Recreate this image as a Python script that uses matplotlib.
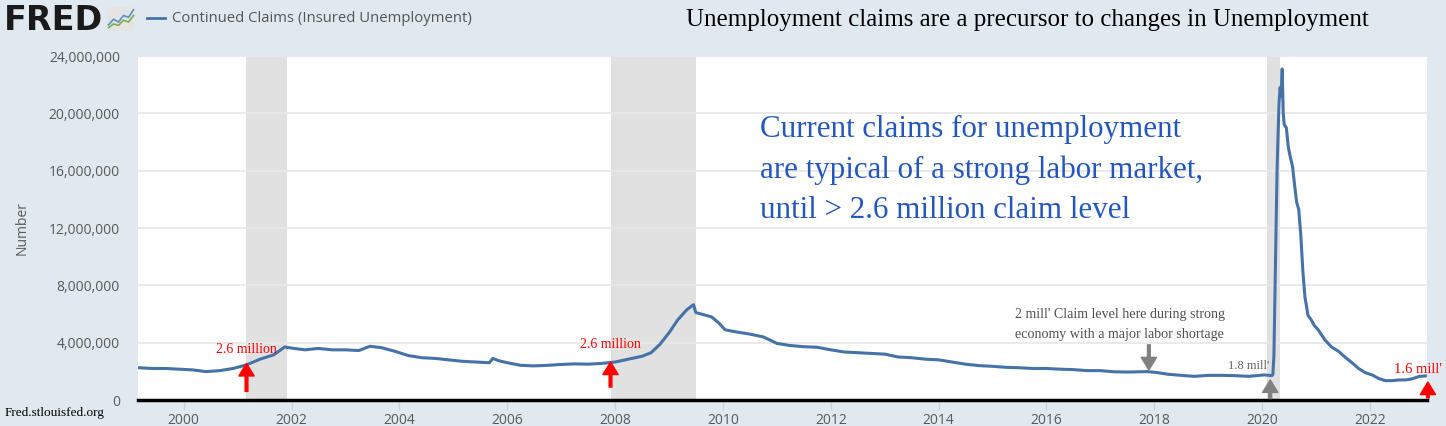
import matplotlib
matplotlib.use("Agg")
import matplotlib.pyplot as plt
import matplotlib.dates as mdates
from matplotlib.ticker import FuncFormatter, MultipleLocator
from matplotlib.lines import Line2D
import pandas as pd

# Continued claims (insured unemployment), in millions
dates = [
    "1999-03-01", "1999-06-01", "1999-09-01", "1999-12-01",
    "2000-03-01", "2000-06-01", "2000-09-01", "2000-12-01",
    "2001-03-01", "2001-06-01", "2001-09-01", "2001-11-15",
    "2002-01-15", "2002-04-01", "2002-07-01", "2002-10-01",
    "2003-01-01", "2003-04-01", "2003-06-15", "2003-09-01", "2003-12-01",
    "2004-03-01", "2004-06-01", "2004-09-01", "2004-12-01",
    "2005-03-01", "2005-06-01", "2005-09-01", "2005-09-25", "2005-11-01",
    "2006-01-01", "2006-04-01", "2006-07-01", "2006-10-01",
    "2007-01-01", "2007-04-01", "2007-07-01", "2007-10-01",
    "2008-01-01", "2008-04-01", "2008-07-01", "2008-09-01", "2008-11-01",
    "2009-01-01", "2009-03-01", "2009-05-01", "2009-06-15", "2009-07-01",
    "2009-10-15", "2009-12-01",
    "2010-01-15", "2010-04-01", "2010-07-01", "2010-10-01",
    "2011-01-01", "2011-04-01", "2011-07-01", "2011-10-01",
    "2012-01-01", "2012-04-01", "2012-07-01", "2012-10-01",
    "2013-01-01", "2013-04-01", "2013-07-01", "2013-10-01",
    "2014-01-01", "2014-04-01", "2014-07-01", "2014-10-01",
    "2015-01-01", "2015-04-01", "2015-07-01", "2015-10-01",
    "2016-01-01", "2016-04-01", "2016-07-01", "2016-10-01",
    "2017-01-01", "2017-04-01", "2017-07-01", "2017-11-15",
    "2018-01-15", "2018-04-01", "2018-07-01", "2018-10-01",
    "2019-01-01", "2019-04-01", "2019-07-01", "2019-10-01",
    "2020-01-15", "2020-03-07", "2020-03-14", "2020-03-21", "2020-03-28",
    "2020-04-04", "2020-04-11", "2020-04-18", "2020-04-25", "2020-05-02",
    "2020-05-09", "2020-05-16", "2020-05-23", "2020-05-30", "2020-06-13",
    "2020-06-27", "2020-07-11", "2020-07-25", "2020-08-08", "2020-08-22",
    "2020-09-05", "2020-09-19", "2020-10-03", "2020-10-17", "2020-11-07",
    "2020-11-28", "2020-12-19",
    "2021-01-15", "2021-03-01", "2021-04-15", "2021-06-01", "2021-07-15",
    "2021-09-01", "2021-10-15", "2021-12-01",
    "2022-01-15", "2022-03-01", "2022-04-15", "2022-06-01", "2022-07-15",
    "2022-09-01", "2022-10-15", "2022-12-01", "2023-01-14",
]
claims_m = [
    2.25, 2.20, 2.20, 2.15,
    2.10, 1.98, 2.05, 2.20,
    2.45, 2.85, 3.15, 3.70,
    3.60, 3.50, 3.60, 3.50,
    3.50, 3.45, 3.75, 3.65, 3.40,
    3.10, 2.95, 2.90, 2.80,
    2.70, 2.65, 2.60, 2.90, 2.75,
    2.60, 2.42, 2.38, 2.42,
    2.48, 2.52, 2.50, 2.55,
    2.65, 2.85, 3.05, 3.30, 3.90,
    4.70, 5.60, 6.30, 6.65, 6.10,
    5.80, 5.40,
    4.90, 4.75, 4.60, 4.40,
    3.95, 3.80, 3.72, 3.68,
    3.50, 3.35, 3.30, 3.25,
    3.20, 3.00, 2.95, 2.85,
    2.80, 2.65, 2.50, 2.40,
    2.35, 2.28, 2.25, 2.20,
    2.20, 2.15, 2.12, 2.05,
    2.05, 1.97, 1.95, 1.98,
    1.92, 1.80, 1.72, 1.65,
    1.72, 1.72, 1.70, 1.65,
    1.75, 1.70, 1.78, 3.10, 7.40,
    12.0, 15.9, 18.5, 20.8, 21.8,
    21.2, 23.1, 20.0, 19.2, 19.0,
    17.6, 16.9, 16.3, 15.0, 13.8,
    13.3, 11.5, 9.0, 7.2, 5.9,
    5.6, 5.2,
    4.9, 4.2, 3.7, 3.4, 3.0,
    2.6, 2.2, 1.9,
    1.75, 1.50, 1.35, 1.35, 1.40,
    1.40, 1.48, 1.65, 1.68,
]

recession_starts = ["2001-03-01", "2007-12-01", "2020-02-01"]
recession_ends = ["2001-11-30", "2009-06-30", "2020-04-30"]

# arrows: date, tip value, tail value, colour
arrow_dates = ["2001-03-01", "2007-12-01", "2017-11-25", "2020-02-25", "2023-01-28"]
arrow_tips = [2.55e6, 2.65e6, 2.1e6, 1.4e6, 1.25e6]
arrow_tails = [0.6e6, 0.9e6, 3.85e6, 0.1e6, 0.15e6]
arrow_colors = ["red", "red", "#808080", "#808080", "red"]

W, H = 1446, 426
BG = "#e1e9f0"
LINE = "#4572a7"


def fx(x):
    return x / W


def fy(y):
    return 1 - y / H


fig = plt.figure(figsize=(W / 100, H / 100), dpi=100, facecolor=BG)
ax = fig.add_axes([fx(138), 26 / H, 1289 / W, 344 / H])
ax.set_facecolor("white")

for s, e in zip(recession_starts, recession_ends):
    ax.axvspan(pd.Timestamp(s), pd.Timestamp(e), color="#e1e1e1", lw=0, zorder=0)

x = pd.to_datetime(dates)
y = [v * 1e6 for v in claims_m]
ax.plot(x, y, color=LINE, lw=2.2, zorder=3)

ax.set_xlim(pd.Timestamp("1999-02-25"), pd.Timestamp("2023-01-22"))
ax.set_ylim(0, 24e6)
ax.yaxis.set_major_locator(MultipleLocator(4e6))
ax.yaxis.set_major_formatter(FuncFormatter(lambda v, p: f"{int(v):,}"))
ax.xaxis.set_major_locator(mdates.YearLocator(2))
ax.xaxis.set_major_formatter(mdates.DateFormatter("%Y"))

ax.grid(True, axis="y", color="#e8e8e8", lw=1.3, zorder=1)
for side in ["top", "right", "left"]:
    ax.spines[side].set_visible(False)
ax.spines["bottom"].set_color("black")
ax.spines["bottom"].set_linewidth(2.5)
ax.spines["bottom"].set_zorder(4)

ax.tick_params(axis="y", length=0, pad=13, labelsize=10, labelcolor="#595959")
ax.tick_params(axis="x", length=7, width=1, color="#c8d3de", pad=2,
               labelsize=10, labelcolor="#595959")
for lab in ax.get_xticklabels() + ax.get_yticklabels():
    lab.set_family("Open Sans")

ax.set_ylabel("Number", family="Open Sans", fontsize=10, color="#595959", labelpad=14)

for d, tip, tail, c in zip(arrow_dates, arrow_tips, arrow_tails, arrow_colors):
    ax.annotate("", xy=(pd.Timestamp(d), tip), xytext=(pd.Timestamp(d), tail),
                arrowprops=dict(facecolor=c, edgecolor=c, width=2, headwidth=11,
                                headlength=9, shrink=0),
                annotation_clip=False, zorder=5)

serif = "Liberation Serif"
ax.text(pd.Timestamp("2001-03-01"), 3.55e6, "2.6 million", color="red", family=serif,
        fontsize=10, ha="center", va="center")
ax.text(pd.Timestamp("2007-12-01"), 3.9e6, "2.6 million", color="red", family=serif,
        fontsize=10, ha="center", va="center")
ax.text(pd.Timestamp("2019-10-05"), 2.37e6, "1.8 mill'", color="#606060", family=serif,
        fontsize=9, ha="center", va="center")
ax.text(pd.Timestamp("2022-11-20"), 2.1e6, "1.6 mill'", color="red", family=serif,
        fontsize=10.5, ha="center", va="center")
ax.text(pd.Timestamp("2015-06-01"), 5.25e6,
        "2 mill' Claim level here during strong\neconomy with a major labor shortage",
        color="#505050", family=serif, fontsize=10.1, ha="left", va="center",
        linespacing=1.7)

fig.text(fx(760), fy(115), "Current claims for unemployment\nare typical of a strong labor market,\n"
         "until > 2.6 million claim level", color="#2456c0", family=serif,
         fontsize=22.3, ha="left", va="top", linespacing=1.5)

fig.text(fx(686), fy(20), "Unemployment claims are a precursor to changes in Unemployment",
         family=serif, fontsize=18, color="black", ha="left", va="center")

fig.text(fx(5), fy(413), "Fred.stlouisfed.org", family=serif, fontsize=9.5,
         color="black", ha="left", va="center")

# FRED header
fig.text(fx(4), fy(21), "FRED", family="DejaVu Sans", weight="bold", fontsize=24,
         color="#1a1a1a", ha="left", va="center")
icon = fig.add_axes([fx(107), fy(31), 28 / W, 24 / H])
icon.set_facecolor("#e4e4e4")
icon.plot([0, 1, 2, 3, 4, 5], [1, 2.2, 1.6, 3, 2.6, 4.2], color="#5b8fc7", lw=1.2)
icon.plot([0, 1, 2, 3, 4, 5], [0.4, 1.2, 0.9, 2.0, 1.6, 3.0], color="#7db04a", lw=1.2)
icon.set_xlim(-0.3, 5.3)
icon.set_ylim(-0.3, 4.8)
icon.set_xticks([])
icon.set_yticks([])
for sp in icon.spines.values():
    sp.set_visible(False)

fig.add_artist(Line2D([fx(147), fx(165)], [fy(18), fy(18)], color=LINE, lw=2))
fig.text(fx(172), fy(18), "Continued Claims (Insured Unemployment)", family="Open Sans",
         fontsize=10.7, color="#555555", ha="left", va="center")

fig.savefig("out.png", dpi=100, facecolor=BG)
